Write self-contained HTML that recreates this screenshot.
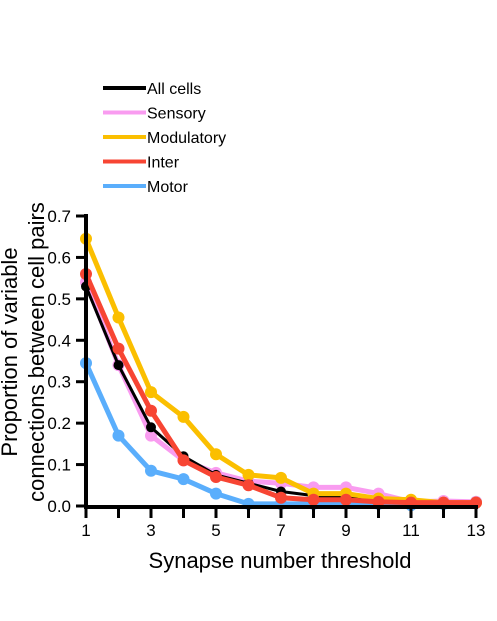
<!DOCTYPE html>
<html><head><meta charset="utf-8"><style>
body{margin:0;background:#fff;}
svg text{font-family:"Liberation Sans",sans-serif;}
</style></head><body>
<svg width="497" height="616" viewBox="0 0 497 616" xmlns="http://www.w3.org/2000/svg">
<g id="legend"></g>
<g id="plot"></g>
<g id="axes"></g>
<text x="280" y="568" font-size="22" text-anchor="middle">Synapse number threshold</text>
<text transform="translate(17,352) rotate(-90)" font-size="22" text-anchor="middle">Proportion of variable</text>
<text transform="translate(44,352) rotate(-90)" font-size="22" text-anchor="middle">connections between cell pairs</text>
</svg>
<script>
const thresholds=[1,2,3,4,5,6,7,8,9,10,11,12,13];
const yTicks=[0,0.1,0.2,0.3,0.4,0.5,0.6,0.7];
const yTickLabels=["0.0","0.1","0.2","0.3","0.4","0.5","0.6","0.7"];
const xTickLabels=["1","3","5","7","9","11","13"];
const seriesNames=["All cells","Sensory","Modulatory","Inter","Motor"];
const seriesColors=["#000000","#f99cf0","#fbbf00","#f74533","#5aaefc"];
const allCells=[0.53,0.34,0.19,0.12,0.075,0.055,0.035,0.025,0.02,0.015,0.01,0.008,0.005];
const sensory=[0.54,0.34,0.17,0.11,0.08,0.06,0.055,0.045,0.045,0.03,0.01,0.012,0.01];
const modulatory=[0.645,0.455,0.275,0.215,0.125,0.075,0.068,0.03,0.03,0.018,0.015,0.008,0.008];
const inter=[0.56,0.38,0.23,0.11,0.07,0.05,0.02,0.015,0.015,0.01,0.008,0.008,0.008];
const motor=[0.345,0.17,0.085,0.065,0.03,0.005,0.005,0.005,0.008,0.005,0.002,0.005,0.01];
const NS="http://www.w3.org/2000/svg";
const X=v=>86+(v-1)*(476-86)/12;
const Y=v=>506-v*(506-216)/0.7;
function mk(t,a,p){const e=document.createElementNS(NS,t);for(const k in a)e.setAttribute(k,a[k]);p.appendChild(e);return e;}
const plot=document.getElementById('plot'),axes=document.getElementById('axes'),leg=document.getElementById('legend');
const data=[allCells,sensory,modulatory,inter,motor];
const order=[4,1,0,2,3];
order.forEach(i=>{
  const g=mk('g',{},plot);
  
  
  const w=i===0?3:5;
  const pl=mk('polyline',{points:data[i].map((v,j)=>X(thresholds[j])+','+Y(v)).join(' '),fill:'none',stroke:seriesColors[i],'stroke-width':w,'stroke-linejoin':'round'},g);
  
  
  data[i].forEach((v,j)=>{
    const c=mk('circle',{cx:X(thresholds[j]),cy:Y(v),r:i===0?5:6,fill:seriesColors[i]},g);
    
    
  });
});
const ax=mk('line',{x1:86,y1:507,x2:478,y2:507,stroke:'#000','stroke-width':4},axes);


const ay=mk('line',{x1:86,y1:214,x2:86,y2:509,stroke:'#000','stroke-width':4},axes);


yTicks.forEach((v,i)=>{
  const t=mk('line',{x1:76,y1:Y(v),x2:86,y2:Y(v),stroke:'#000','stroke-width':3},axes);
  
  
  const l=mk('text',{x:71,y:Y(v)+6,'font-size':17,'text-anchor':'end'},axes);
  l.textContent=yTickLabels[i];
  
  
});
thresholds.forEach(v=>{
  const t=mk('line',{x1:X(v),y1:507,x2:X(v),y2:518,stroke:'#000','stroke-width':3},axes);
  
  
});
xTickLabels.forEach(s=>{
  const l=mk('text',{x:X(+s),y:536,'font-size':17,'text-anchor':'middle'},axes);
  l.textContent=s;
  
  
});
seriesNames.forEach((n,i)=>{
  const y=88+i*24.5;
  const g=mk('g',{},leg);
  
  
  mk('line',{x1:103,y1:y,x2:146,y2:y,stroke:seriesColors[i],'stroke-width':4},g);
  const t=mk('text',{x:147,y:y+6,'font-size':16},g);
  t.textContent=n;
});
</script>
</body></html>
